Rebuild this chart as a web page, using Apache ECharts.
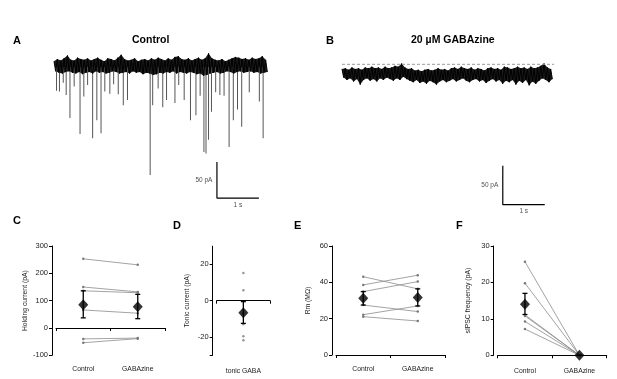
<!DOCTYPE html>
<html>
<head>
<meta charset="utf-8">
<script src="https://cdn.jsdelivr.net/npm/echarts@6/dist/echarts.min.js"></script>
<style>
  html, body { margin: 0; padding: 0; background: #fff; }
  #chart { width: 617px; height: 379px; }
</style>
</head>
<body>
<div id="chart"></div>
<script>
// ---- traces (pA, seconds) ----
var controlSeconds = 5.12;
var controlUpper = [8, 11, 9, 12, 16, 10, 9, 13, 11, 10, 12, 9, 11, 13, 10, 8, 12, 11, 9, 13,
  17, 11, 9, 10, 12, 8, 10, 11, 9, 12, 10, 13, 11, 9, 12, 10, 14, 15, 11, 10,
  12, 9, 11, 13, 10, 12, 19, 12, 10, 9, 11, 8, 10, 12, 14, 13, 11, 12, 10, 13, 11, 12, 15, 10];
var controlLower = [-6, -8, -9, -7, -6, -8, -9, -7, -10, -8, -7, -9, -6, -8, -7, -9, -8, -6, -7, -9,
  -8, -7, -9, -6, -8, -7, -10, -8, -9, -11, -10, -8, -9, -7, -8, -6, -9, -7, -8, -9,
  -7, -8, -10, -9, -12, -11, -9, -8, -7, -9, -8, -6, -7, -9, -7, -6, -8, -7, -6, -8, -7, -9, -8, -7];
// spontaneous IPSCs: [time s, peak pA]
var controlEvents = [[0.06, -33], [0.13, -34], [0.22, -22], [0.29, -39], [0.38, -71], [0.48, -27],
  [0.62, -93], [0.71, -41], [0.8, -25], [0.92, -99], [1.02, -74], [1.12, -92], [1.21, -34],
  [1.33, -37], [1.42, -24], [1.53, -38], [1.65, -53], [1.75, -46], [2.29, -150], [2.35, -53],
  [2.48, -30], [2.59, -56], [2.68, -46], [2.88, -50], [2.97, -25], [3.1, -46], [3.25, -74],
  [3.38, -67], [3.48, -40], [3.57, -118], [3.62, -120], [3.68, -101], [3.75, -62], [3.85, -35],
  [3.95, -39], [4.05, -40], [4.17, -111], [4.27, -74], [4.37, -59], [4.47, -83], [4.65, -35],
  [4.89, -48], [4.98, -99]];

var gabazineSeconds = 5.05;
var gabazineUpper = [-6, -5, -7, -4, -6, -5, -7, -4, -5, -3, -5, -4, -6, -3, -5, -4, -2, -3, 1, -4,
  -6, -5, -8, -7, -9, -7, -6, -8, -7, -5, -7, -6, -8, -5, -4, -6, -3, -5, -6, -4,
  -7, -5, -6, -8, -5, -4, -6, -5, -7, -3, -4, -6, -5, -3, -5, -4, -6, -3, -5, -4, -2, 1, -4, -6];
var gabazineLower = [-17, -20, -18, -22, -19, -26, -20, -18, -21, -19, -22, -18, -20, -17, -19, -21, -18, -20, -16, -19,
  -21, -23, -20, -24, -22, -25, -21, -23, -26, -22, -20, -23, -21, -19, -22, -20, -18, -21, -23, -20,
  -19, -22, -20, -24, -21, -19, -22, -20, -25, -21, -23, -20, -26, -21, -24, -20, -27, -22, -25, -21, -18, -20, -23, -19];

// scale bars: [start time s, top pA]
var scaleBarA = [3.88, -132];
var scaleBarB = [3.83, -130];

// ---- summary panels ----
var pairCategories = ['Control', 'GABAzine'];
var holdingControl = [253, 150, 136, 66, -40, -54];
var holdingGabazine = [231, 132, 129, 54, -37, -39];
var holdingMean = [85, 78];
var holdingErr = [[37, 136], [34, 123]];

var tonicCategory = ['tonic GABA'];
var tonicValues = [15.3, 5.7, -7, -13, -19.5, -21.8];
var tonicMean = -6.6;
var tonicErr = [-12.5, -0.5];

var rmControl = [43.1, 38.6, 34.9, 27.5, 22.2, 21.1];
var rmGabazine = [36.4, 43.9, 40.4, 23.9, 27, 18.7];
var rmMean = [31.2, 31.7];
var rmErr = [[27.5, 34.9], [27, 36.4]];

var sipscControl = [25.7, 19.8, 11.1, 10.8, 9.3, 7.2];
var sipscGabazine = [0, 0, 0, 0, 0, 0];
var sipscMean = [14.0, 0];
var sipscErr = [[11.2, 17], [0, 0]];

var FONT = 'Liberation Sans, Arial, sans-serif';

function zigzag(upper, lower, seconds) {
    var dt = seconds / upper.length;
    var pts = [];
    for (var i = 0; i < upper.length; i++) {
        pts.push([i * dt, upper[i]]);
        pts.push([i * dt + dt / 2, lower[i]]);
    }
    return pts;
}

// outline of the noise band: upper edge left to right, lower edge back
function envelope(upper, lower, seconds) {
    var dt = seconds / upper.length;
    var top = upper.map(function (u, i) { return [i * dt, u]; });
    var bottom = lower.map(function (l, i) { return [i * dt + dt / 2, l]; }).reverse();
    return top.concat(bottom);
}

function bandSeries(axisIdx, pts) {
    return {
        type: 'custom', xAxisIndex: axisIdx, yAxisIndex: axisIdx, data: [[0, 0]], z: 1,
        renderItem: function (params, api) {
            return {
                type: 'polygon',
                shape: { points: pts.map(function (p) { return api.coord(p); }) },
                style: { fill: '#1a1a1a' }
            };
        }
    };
}

function errorBarItem(params, api) {
    var x = api.value(0);
    var lo = api.coord([x, api.value(1)]);
    var hi = api.coord([x, api.value(2)]);
    var w = 2.5;
    var st = { stroke: '#000', lineWidth: 1.3 };
    return {
        type: 'group',
        children: [
            { type: 'line', shape: { x1: hi[0], y1: hi[1], x2: lo[0], y2: lo[1] }, style: st },
            { type: 'line', shape: { x1: hi[0] - w, y1: hi[1], x2: hi[0] + w, y2: hi[1] }, style: st },
            { type: 'line', shape: { x1: lo[0] - w, y1: lo[1], x2: lo[0] + w, y2: lo[1] }, style: st }
        ]
    };
}

function hiddenAxis(grid, min, max) {
    return { type: 'value', gridIndex: grid, min: min, max: max, show: false };
}

function catAxis(grid, data, offset) {
    return {
        type: 'category', gridIndex: grid, data: data, offset: offset, boundaryGap: true,
        axisLine: { show: true, lineStyle: { color: '#000', width: 1 } },
        axisTick: { show: true, length: 3, lineStyle: { color: '#000' } },
        axisLabel: { fontSize: 6.8, color: '#222', margin: 2, fontFamily: FONT }
    };
}

function valAxis(grid, min, max, interval, name, nameGap) {
    return {
        type: 'value', gridIndex: grid, min: min, max: max, interval: interval, offset: 4,
        name: name, nameLocation: 'middle', nameGap: nameGap,
        nameTextStyle: { fontSize: 6.8, color: '#222', fontFamily: FONT },
        axisLine: { show: true, lineStyle: { color: '#000', width: 1 } },
        axisTick: { show: true, length: 3, lineStyle: { color: '#000' } },
        axisLabel: { fontSize: 7.5, color: '#222', margin: 4, fontFamily: FONT },
        splitLine: { show: false }
    };
}

function pairSeries(axisIdx, ctrl, gaba, mean, err) {
    var out = [];
    for (var i = 0; i < ctrl.length; i++) {
        out.push({
            type: 'line', xAxisIndex: axisIdx, yAxisIndex: axisIdx,
            data: [[0, ctrl[i]], [1, gaba[i]]],
            symbol: 'circle', symbolSize: 2.5,
            lineStyle: { color: '#8c8c8c', width: 0.8 },
            itemStyle: { color: '#7a7a7a' }, z: 2
        });
    }
    out.push({
        type: 'custom', xAxisIndex: axisIdx, yAxisIndex: axisIdx, renderItem: errorBarItem,
        encode: { x: 0, y: [1, 2] },
        data: err.map(function (e, k) { return [k, e[0], e[1]]; }), z: 4
    });
    out.push({
        type: 'scatter', xAxisIndex: axisIdx, yAxisIndex: axisIdx, symbol: 'diamond', symbolSize: [10, 11],
        itemStyle: { color: '#000' }, z: 5,
        data: mean.map(function (m, k) { return [k, m]; })
    });
    return out;
}

function scaleBar(axisIdx, bar) {
    var t0 = bar[0], y0 = bar[1];
    return [{
        type: 'line', xAxisIndex: axisIdx, yAxisIndex: axisIdx, symbol: 'none',
        lineStyle: { color: '#000', width: 1.2 },
        data: [[t0, y0], [t0, y0 - 50], [t0 + 1, y0 - 50]]
    }, {
        type: 'scatter', xAxisIndex: axisIdx, yAxisIndex: axisIdx, symbolSize: 1,
        itemStyle: { color: 'rgba(0,0,0,0)' },
        label: { show: true, fontSize: 6.5, color: '#222', fontFamily: FONT, formatter: '{b}' },
        data: [
            { name: '50 pA', value: [t0, y0 - 25], label: { position: 'left', distance: 4 } },
            { name: '1 s', value: [t0 + 0.5, y0 - 50], label: { position: 'bottom', distance: 3 } }
        ]
    }];
}

var chart = echarts.init(document.getElementById('chart'));

function letter(text, left, top, size) {
    return { text: text, left: left, top: top, padding: 0,
        textStyle: { fontSize: size || 11, fontWeight: 'bold', color: '#000', fontFamily: FONT } };
}

var series = [];
// A: control trace
series.push({
    type: 'bar', xAxisIndex: 0, yAxisIndex: 0, barWidth: 1,
    itemStyle: { color: '#555' }, data: controlEvents, z: 1
});
series.push(bandSeries(0, envelope(controlUpper, controlLower, controlSeconds)));
series.push({
    type: 'line', xAxisIndex: 0, yAxisIndex: 0, symbol: 'none',
    lineStyle: { color: '#000', width: 1 }, data: zigzag(controlUpper, controlLower, controlSeconds), z: 2
});
series = series.concat(scaleBar(0, scaleBarA));
// B: gabazine trace
series.push(bandSeries(1, envelope(gabazineUpper, gabazineLower, gabazineSeconds)));
series.push({
    type: 'line', xAxisIndex: 1, yAxisIndex: 1, symbol: 'none',
    lineStyle: { color: '#000', width: 1 }, data: zigzag(gabazineUpper, gabazineLower, gabazineSeconds), z: 2
});
series.push({
    type: 'line', xAxisIndex: 1, yAxisIndex: 1, symbol: 'none',
    lineStyle: { color: '#a09595', width: 1, type: [3, 2] }, data: [[0, 0], [gabazineSeconds, 0]], z: 3
});
series = series.concat(scaleBar(1, scaleBarB));
// C, E, F paired panels
series = series.concat(pairSeries(2, holdingControl, holdingGabazine, holdingMean, holdingErr));
series = series.concat(pairSeries(4, rmControl, rmGabazine, rmMean, rmErr));
series = series.concat(pairSeries(5, sipscControl, sipscGabazine, sipscMean, sipscErr));
// D tonic current
series.push({
    type: 'scatter', xAxisIndex: 3, yAxisIndex: 3, symbolSize: 2.5, itemStyle: { color: '#7a7a7a' },
    data: tonicValues.map(function (v) { return [0, v]; }), z: 2
});
series.push({
    type: 'custom', xAxisIndex: 3, yAxisIndex: 3, renderItem: errorBarItem, encode: { x: 0, y: [1, 2] },
    data: [[0, tonicErr[0], tonicErr[1]]], z: 4
});
series.push({
    type: 'scatter', xAxisIndex: 3, yAxisIndex: 3, symbol: 'diamond', symbolSize: [10, 11],
    itemStyle: { color: '#000' }, data: [[0, tonicMean]], z: 5
});

var tonicY = valAxis(3, -30, 30, 10, 'Tonic current (pA)', 22.5);
tonicY.axisTick.customValues = [-30, -20, 0, 20];
tonicY.axisLabel.customValues = [-20, 0, 20];

var option = {
    animation: false,
    backgroundColor: '#fff',
    title: [
        letter('A', 13, 35), letter('Control', 132, 35, 10.5),
        letter('B', 326, 35), letter('20 µM GABAzine', 411, 35, 10.5),
        letter('C', 13, 215), letter('D', 173, 220), letter('E', 294, 220), letter('F', 456, 220)
    ],
    grid: [
        { left: 54, top: 45.4, width: 215, height: 158.4 },
        { left: 342, top: 48.7, width: 212, height: 163.8 },
        { left: 56, top: 246, width: 109, height: 109.3 },
        { left: 216.7, top: 246.2, width: 53.3, height: 109 },
        { left: 336, top: 246, width: 109, height: 109 },
        { left: 497.7, top: 246, width: 109, height: 109.3 }
    ],
    xAxis: [
        hiddenAxis(0, 0, controlSeconds),
        hiddenAxis(1, 0, gabazineSeconds),
        catAxis(2, pairCategories, 8.7),
        catAxis(3, tonicCategory, 10.8),
        catAxis(4, pairCategories, 9),
        catAxis(5, pairCategories, 10.7)
    ],
    yAxis: [
        hiddenAxis(0, -190, 30),
        hiddenAxis(1, -190, 20),
        valAxis(2, -100, 300, 100, 'Holding current (pA)', 23.5),
        tonicY,
        valAxis(4, 0, 60, 20, 'Rm (MΩ)', 20.5),
        valAxis(5, 0, 30, 10, 'sIPSC frequency (pA)', 22.5)
    ],
    series: series
};

chart.setOption(option);
</script>
</body>
</html>
